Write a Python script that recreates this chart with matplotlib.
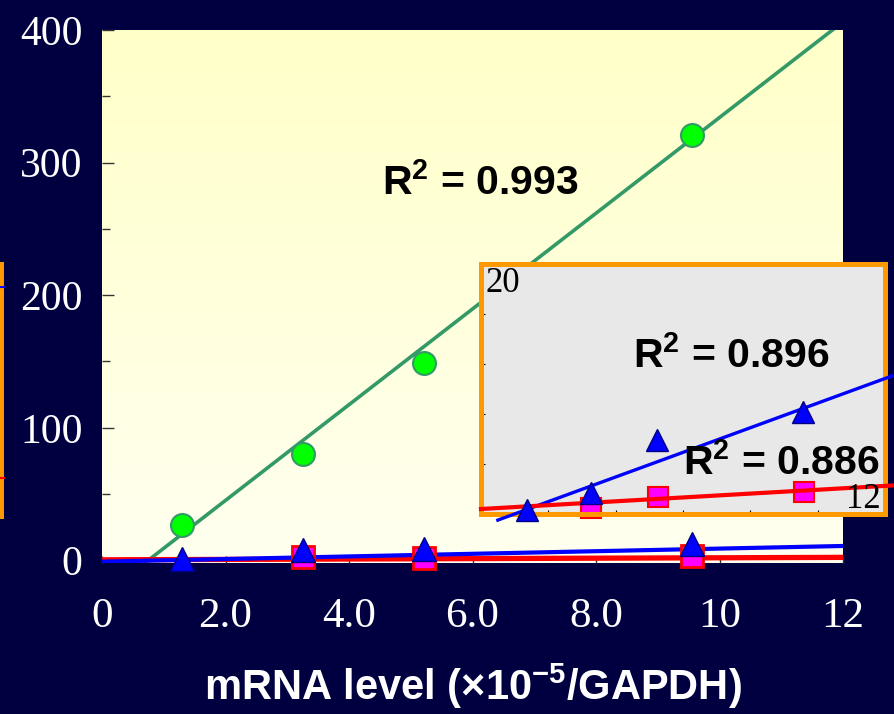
import matplotlib

matplotlib.use("Agg")

import matplotlib.pyplot as plt
import numpy as np
from matplotlib.colors import LinearSegmentedColormap
from matplotlib.lines import Line2D
from matplotlib.patches import Rectangle

plt.rcParams["mathtext.default"] = "regular"

# values (mRNA level, x1e-5/GAPDH)
x_main = [1.3, 3.25, 5.22, 9.55]
green_y = [27, 80, 149, 321]
tri_y_main = [1, 7.5, 8.5, 12]
sq_x_main = [3.25, 5.22, 9.55]
sq_y_main = [2.5, 1.5, 3.5]

# inset (enlarged view, 0-12 x 0-20)
x_inset = [1.36, 3.26, 5.24, 9.57]
tri_y_inset = [0.3, 1.65, 5.9, 8.2]
sq_x_inset = [3.26, 5.27, 9.6]
sq_y_inset = [0.45, 1.4, 1.8]

# trend lines as drawn: (slope, intercept)
fit_green = (36.1, -27.0)
fit_blue = (0.985, -0.98)
fit_red = (0.154, 0.4)

r2_values = ["0.993", "0.896", "0.886"]
xticks = [0, 2, 4, 6, 8, 10, 12]
xtick_labels = ["0", "2.0", "4.0", "6.0", "8.0", "10", "12"]
yticks = [0, 100, 200, 300, 400]
yticks_minor = [50, 150, 250, 350]

# style
navy = "#000040"
orange = "#FF9900"
serif = "Liberation Serif"
sans = "Liberation Sans"


def line(ax, fit, x0, x1, **kw):
    xx = np.array([x0, x1])
    ax.plot(xx, fit[0] * xx + fit[1], **kw)


fig = plt.figure(figsize=(8.94, 7.14), dpi=100, facecolor=navy)
ax = fig.add_axes([102 / 894, 151 / 714, 741 / 894, 533 / 714])

# pale yellow gradient background
cmap = LinearSegmentedColormap.from_list("bg", ["#FFFFF0", "#FFFFC8"])
grad = np.linspace(0, 1, 256).reshape(-1, 1)
ax.imshow(grad, extent=[0, 12, -2, 400], aspect="auto", cmap=cmap,
          origin="lower", zorder=0)

line(ax, fit_green, 0, 12, color="#339966", lw=2.6, zorder=2)
line(ax, fit_red, 0, 12, color="#FF0000", lw=3.8, zorder=2)
line(ax, fit_blue, 0, 12, color="#0000FF", lw=3.0, zorder=3)
ax.plot(x_main, green_y, "o", ms=16.5, mfc="#00FF00", mec="#339966",
        mew=1.5, zorder=4, clip_on=False)
ax.plot(sq_x_main, sq_y_main, "s", ms=16.5, mfc="#FF00FF", mec="#FF0000",
        mew=2, zorder=4, clip_on=False)
ax.plot(x_main, tri_y_main, "^", ms=17.5, mfc="#0000FF", mec="#000080",
        mew=1, zorder=5, clip_on=False)

ax.set_xlim(0, 12)
ax.set_ylim(-2, 400)
for s in ax.spines.values():
    s.set_visible(False)
ax.set_xticks(xticks)
ax.set_xticklabels(xtick_labels)
ax.set_yticks(yticks)
ax.set_yticks(yticks_minor, minor=True)
ax.tick_params(axis="x", direction="in", length=5, width=1, color="#333333",
               pad=25, labelcolor="white", labelsize=31)
ax.tick_params(axis="y", which="major", direction="in", length=8.5, width=1,
               color="#333333", pad=14, labelcolor="white", labelsize=30)
ax.tick_params(axis="y", which="minor", direction="in", length=5.5, width=1,
               color="#333333")
for lab in ax.get_xticklabels() + ax.get_yticklabels():
    lab.set_fontfamily(serif)

ax.set_xlabel("mRNA level (×10$^{-5}$/GAPDH)", fontsize=30, fontweight="bold",
              family=sans, color="white", labelpad=18)
ax.text(0.511, 0.713, "R$^2$ = " + r2_values[0], transform=ax.transAxes,
        ha="center", va="center", fontsize=29.5, fontweight="bold",
        family=sans, zorder=6)

# inset
ins = fig.add_axes([481 / 894, 200 / 714, 404 / 894, 250 / 714])
ins.set_facecolor("#E8E8E8")
for s in ins.spines.values():
    s.set_color(orange)
    s.set_linewidth(3.6)
line(ins, fit_blue, 0.5, 12.2, color="#0000FF", lw=2.4, zorder=3,
     clip_on=False)
line(ins, fit_red, 0.0, 12.2, color="#FF0000", lw=3.0, zorder=3,
     clip_on=False)
ins.plot(sq_x_inset, sq_y_inset, "s", ms=14, mfc="#FF00FF", mec="#FF0000",
         mew=1.5, zorder=2, clip_on=False)
ins.plot(x_inset, tri_y_inset, "^", ms=15.5, mfc="#0000FF", mec="#000080",
         mew=1, zorder=4, clip_on=False)
ins.set_xlim(0, 12)
ins.set_ylim(0, 20)
ins.set_xticks([2, 4, 6, 8, 10])
ins.set_yticks([4, 8, 12, 16])
ins.tick_params(direction="in", length=3, width=0.8, color="black",
                labelbottom=False, labelleft=False)
ins.text(0.012, 0.99, "20", transform=ins.transAxes, ha="left", va="top",
         fontsize=25, family=serif)
ins.text(0.99, -0.01, "12", transform=ins.transAxes, ha="right",
         va="bottom", fontsize=25, family=serif)
ins.text(0.619, 0.632, "R$^2$ = " + r2_values[1], transform=ins.transAxes,
         ha="center", va="center", fontsize=29.5, fontweight="bold",
         family=sans, zorder=6)
ins.text(0.743, 0.204, "R$^2$ = " + r2_values[2], transform=ins.transAxes,
         ha="center", va="center", fontsize=29.5, fontweight="bold",
         family=sans, zorder=6)

# edge of another panel cut off at the left border
fig.add_artist(Rectangle((0, 195 / 714), 4 / 894, 257 / 714,
                         transform=fig.transFigure, color=orange, lw=0))
fig.add_artist(Line2D([0, 4 / 894], [1 - 287 / 714] * 2, color="#0000FF",
                      lw=1.5, transform=fig.transFigure))
fig.add_artist(Line2D([0, 4 / 894], [1 - 478 / 714] * 2, color="#FF0000",
                      lw=1.5, transform=fig.transFigure))

fig.savefig("out.png", dpi=100, facecolor=fig.get_facecolor())
